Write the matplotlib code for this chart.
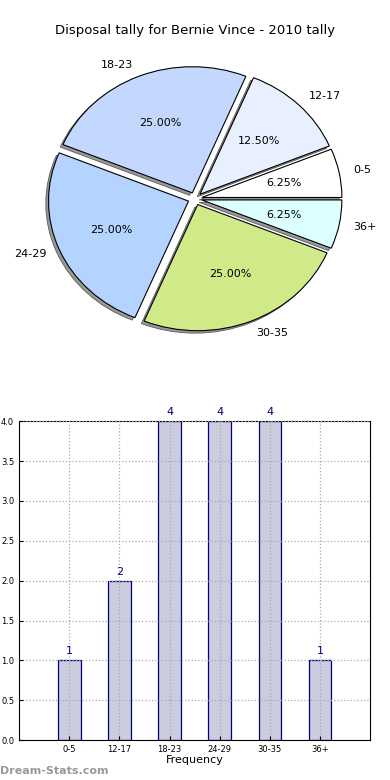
import numpy as np
import matplotlib.pyplot as plt

categories = ['0-5', '12-17', '18-23', '24-29', '30-35', '36+']
counts = [1, 2, 4, 4, 4, 1]
pie_colors = ['#ffffff', '#e8f0ff', '#c4d8ff', '#b4d4ff', '#d0ea8a', '#dcffff']

fig = plt.figure(figsize=(3.9, 7.8), dpi=100)

# pie on top (slightly squashed, like the original)
ax1 = fig.add_axes([0.0333, 0.535, 0.9334, 0.4205])
ax1.pie(counts, labels=categories, colors=pie_colors, autopct='%1.2f%%',
        startangle=0, explode=[0.05] * len(counts),
        shadow={'ox': -0.014, 'oy': -0.014, 'facecolor': '0.6',
                'edgecolor': '0.35', 'linewidth': 0.6, 'alpha': 1},
        wedgeprops={'edgecolor': 'black', 'linewidth': 0.8},
        textprops={'fontsize': 8})
ax1.set_aspect('auto')
ax1.set_xlim(-1.3, 1.3)
ax1.set_ylim(-1.3, 1.3)
fig.text(0.5, 0.961, 'Disposal tally for Bernie Vince - 2010 tally',
         ha='center', va='center', fontsize=9.5)

# bar chart below
ax2 = fig.add_axes([0.049, 0.051, 0.9, 0.409])
x = np.arange(len(categories))
ax2.bar(x, counts, width=0.45, color='#ccccdf', edgecolor='#000080', linewidth=0.9, zorder=2)
for xi, c in zip(x, counts):
    ax2.text(xi, c + 0.05, str(c), ha='center', va='bottom', fontsize=8, color='#000080')
ax2.set_xlim(-1, 6)
ax2.set_ylim(0, 4)
ax2.set_xticks(x)
ax2.set_xticklabels(categories)
ax2.set_yticks(np.arange(0, 4.01, 0.5))
ax2.tick_params(labelsize=6, length=3, direction='in')
ax2.grid(True, linestyle=':', color='#aaaaaa', linewidth=0.9, zorder=3)
ax2.set_axisbelow(False)
ax2.set_xlabel('Frequency', fontsize=8, labelpad=1)

fig.text(0.0, 0.012, 'Dream-Stats.com', fontsize=8, color='#999999',
         fontweight='bold', ha='left', va='center')

fig.savefig('out.png', dpi=100)
